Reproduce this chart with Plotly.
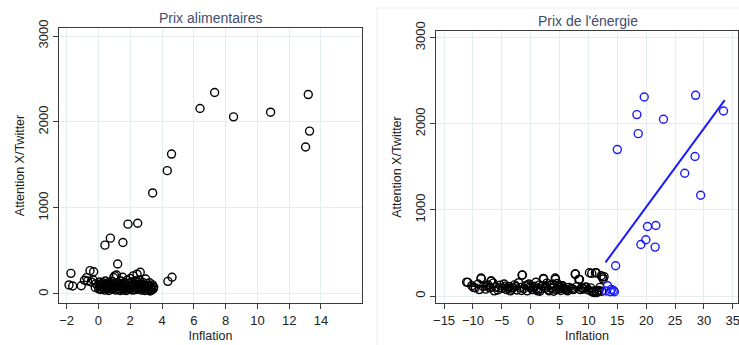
import plotly.graph_objects as go

# ---------------- data: food prices panel ----------------
food_x = [
    -1.73, -1.85, -1.62, -1.08, -0.53, -0.30, -0.74, -0.68, -0.33, -0.88, -0.45, -0.20,
    -0.15, -0.05, 0.02, 0.08, 0.12, 0.18, 0.22, 0.27, 0.31, 0.36, 0.41, 0.44, 0.48,
    0.53, 0.57, 0.61, 0.66, 0.70, 0.74, 0.79, 0.83, 0.87, 0.92, 0.96, 1.00, 1.03,
    1.07, 1.10, 1.14, 1.18, 1.21, 1.24, 1.28, 1.33, 1.37, 1.41, 1.45, 1.49, 1.52,
    1.56, 1.60, 1.64, 1.68, 1.72, 1.76, 1.80, 1.84, 1.88, 1.92, 1.96, 2.00, 2.04,
    2.08, 2.11, 2.15, 2.19, 2.23, 2.27, 2.31, 2.35, 2.39, 2.43, 2.47, 2.51, 2.55,
    2.59, 2.63, 2.67, 2.71, 2.75, 2.79, 2.83, 2.87, 2.92, 2.97, 3.01, 3.05, 3.10,
    3.14, 3.18, 3.22, 3.27, 3.31, 3.36, 3.40, 3.45, 3.48, 4.37, 4.63,
    0.05, 0.35, 0.62, 0.95, 1.15, 1.42, 1.70, 1.98, 2.25, 2.55, 2.80, 3.08, 3.33,
    0.15, 0.50, 0.85, 1.30, 1.58, 1.90, 2.20, 2.45, 2.70, 3.00, 3.25,
    6.39, 7.31, 8.50, 10.83, 13.20, 13.28, 13.03, 4.60, 4.33, 3.41, 2.47, 1.86,
    0.75, 0.41, 1.54,
]
food_y = [
    240, 105, 93, 95, 271, 259, 190, 151, 163, 160, 140, 75,
    120, 95, 60, 140, 85, 110, 55, 130, 70, 100, 45, 150, 80,
    115, 60, 95, 40, 125, 75, 105, 55, 145, 85, 190, 65, 210,
    110, 45, 220, 90, 348, 130, 60, 100, 40, 150, 75, 115, 194,
    55, 95, 135, 70, 110, 40, 160, 85, 120, 55, 100, 180, 65,
    140, 95, 45, 210, 115, 75, 155, 50, 105, 230, 130, 70, 90,
    160, 252, 115, 45, 85, 135, 60, 100, 40, 174, 75, 120, 55,
    95, 40, 130, 65, 85, 50, 105, 60, 80, 147, 194,
    110, 65, 130, 80, 60, 95, 125, 70, 50, 110, 75, 100, 45,
    50, 90, 70, 115, 45, 65, 95, 55, 110, 80, 35,
    2157, 2343, 2060, 2114, 2319, 1894, 1709, 1627, 1434, 1175, 823, 812,
    649, 568, 599,
]

# ---------------- data: energy prices panel ----------------
energy_x_before = [
    -10.9, -11.1, -8.6, -8.57, -6.9, -6.8, -1.5, -1.43, 2.24, 2.2, 4.3, 4.25,
    7.76, 7.7, 8.45, 8.33, 10.57, 10.17, 11.33, 11.2, 12.4, 12.7, 12.2, 12.55,
    -10.2, -9.6, -9.1, -8.2, -7.8, -7.4, -7.0, -6.5, -6.1, -5.7, -5.3, -4.9,
    -4.6, -4.2, -3.8, -3.5, -3.1, -2.8, -2.4, -2.1, -1.8, -1.2, -0.9, -0.6,
    -0.3, 0.0, 0.3, 0.6, 0.9, 1.2, 1.5, 1.8, 2.5, 2.8, 3.1, 3.4, 3.7, 4.0,
    4.6, 4.9, 5.2, 5.5, 5.8, 6.2, 6.6, 7.0, 7.4, 8.0, 8.8, 9.2, 9.6, 10.0,
    10.4, 10.8, 11.0, 11.5, 11.8, 12.0,
    -9.9, -8.9, -7.6, -6.3, -5.5, -4.4, -3.3, -2.6, -1.6, -0.5, 0.5, 1.0,
    1.6, 2.0, 2.6, 3.2, 3.8, 4.4, 5.0, 5.6, 6.4, 7.2, 8.6, 9.4, 10.6, 11.4,
    11.7, 12.3, -7.2, -3.9, -0.1, 1.3, 3.5, 4.8, 5.3, 6.0, 9.0, 10.9,
]
energy_y_before = [
    159, 162, 209, 201, 174, 174, 243, 244, 197, 205, 193, 209,
    255, 255, 193, 193, 263, 270, 271, 270, 220, 225, 235, 197,
    120, 95, 140, 110, 80, 130, 95, 150, 105, 70, 125, 90,
    140, 75, 110, 60, 95, 130, 70, 155, 100, 85, 120, 60,
    140, 95, 75, 115, 160, 60, 130, 85, 110, 150, 70, 125, 90, 55,
    145, 100, 65, 120, 85, 70, 100, 90, 75, 110, 95, 80, 105, 70,
    95, 50, 39, 45, 60, 100,
    100, 75, 120, 60, 95, 115, 80, 110, 65, 130, 100, 85,
    55, 120, 90, 60, 140, 75, 115, 90, 60, 80, 75, 100, 50, 40,
    65, 55, 100, 90, 110, 70, 95, 80, 120, 75, 90, 60,
]
energy_x_after = [
    15.0, 19.66, 18.39, 18.62, 22.99, 28.56, 33.39, 28.45, 26.67, 29.43, 20.23,
    21.67, 19.94, 19.08, 21.55, 14.71, 13.05, 13.3, 13.97, 14.5, 13.8, 14.3,
]
energy_y_after = [
    1701, 2312, 2107, 1886, 2053, 2331, 2149, 1620, 1426, 1171, 808,
    819, 653, 599, 568, 352, 58, 120, 77, 50, 50, 65,
]

# fitted lines (endpoints)
fit_before_x = [-11.0, 12.9]
fit_before_y = [115, 92]
fit_after_x = [12.95, 33.6]
fit_after_y = [390, 2275]

panel_titles = ["Prix alimentaires", "Prix de l'énergie"]
food_xticks = [-2, 0, 2, 4, 6, 8, 10, 12, 14]
energy_xticks = [-15, -10, -5, 0, 5, 10, 15, 20, 25, 30, 35]
yticks = [0, 1000, 2000, 3000]

# ---------------- figure ----------------
W, H = 739, 345
FONT = "Liberation Sans, Arial, sans-serif"
GRID = "#e6edf1"
AX = "#3a3a3a"


def px_x(p):
    return p / W


def px_y(p):
    return 1 - p / H


fig = go.Figure()
open_marker = dict(symbol="circle-open", size=8, color="black", line=dict(width=1.4))

fig.add_trace(go.Scatter(x=food_x, y=food_y, mode="markers", marker=open_marker,
                         xaxis="x", yaxis="y", showlegend=False))
fig.add_trace(go.Scatter(x=energy_x_before, y=energy_y_before, mode="markers",
                         marker=open_marker, xaxis="x2", yaxis="y2", showlegend=False))
fig.add_trace(go.Scatter(x=fit_before_x, y=fit_before_y, mode="lines",
                         line=dict(color="black", width=1.6), xaxis="x2", yaxis="y2",
                         showlegend=False))
fig.add_trace(go.Scatter(x=energy_x_after, y=energy_y_after, mode="markers",
                         marker=dict(symbol="circle-open", size=8, color="#1a1aff",
                                     line=dict(width=1.4)),
                         xaxis="x2", yaxis="y2", showlegend=False))
fig.add_trace(go.Scatter(x=fit_after_x, y=fit_after_y, mode="lines",
                         line=dict(color="#1a1aff", width=2), xaxis="x2", yaxis="y2",
                         showlegend=False))

common_x = dict(showgrid=True, gridcolor=GRID, gridwidth=1, zeroline=False,
                showline=True, linecolor=AX, linewidth=1, mirror=True, automargin=False,
                ticks="outside", ticklen=5, tickcolor=AX, ticklabeloverflow="allow",
                tickfont=dict(family=FONT, size=13, color="#222"),
                title=dict(text="Inflation", font=dict(family=FONT, size=12.5, color="#222"),
                           standoff=4))
common_y = dict(showgrid=True, gridcolor=GRID, gridwidth=1, zeroline=False,
                showline=True, linecolor=AX, linewidth=1, mirror=True, automargin=False,
                ticks="outside", ticklen=5, tickcolor=AX, tickangle=-90,
                ticklabeloverflow="allow",
                tickvals=yticks, range=[-105, 3093],
                tickfont=dict(family=FONT, size=13, color="#222"),
                title=dict(text="Attention X/Twitter",
                           font=dict(family=FONT, size=12.5, color="#222"), standoff=8))

frame_path = "M {x0},{y0} L {x0},{y1} L {x1},{y1}".format(
    x0=px_x(377), y0=0, y1=px_y(8), x1=1.0)

fig.update_layout(
    width=W, height=H,
    margin=dict(l=0, r=0, t=0, b=0, autoexpand=False),
    paper_bgcolor="white", plot_bgcolor="white",
    xaxis=dict(common_x, domain=[px_x(59), px_x(362)], range=[-2.48, 16.58],
               tickvals=food_xticks, anchor="y"),
    yaxis=dict(common_y, domain=[px_y(303), px_y(28)], anchor="x"),
    xaxis2=dict(common_x, domain=[px_x(436), px_x(738)], range=[-16.4, 35.9],
                tickvals=energy_xticks, anchor="y2"),
    yaxis2=dict(common_y, domain=[px_y(303), px_y(31)], anchor="x2", range=[-81, 3078]),
    shapes=[dict(type="path", xref="paper", yref="paper", path=frame_path,
                 line=dict(color="#ececec", width=1))],
    annotations=[
        dict(text=panel_titles[0], x=px_x(210), y=px_y(18), xref="paper", yref="paper",
             xanchor="center", yanchor="middle",
             showarrow=False, font=dict(family=FONT, size=14, color="#3f4d70")),
        dict(text=panel_titles[1], x=px_x(588), y=px_y(21), xref="paper", yref="paper",
             xanchor="center", yanchor="middle",
             showarrow=False, font=dict(family=FONT, size=14, color="#3f4d70")),
    ],
)

fig.write_html("out.html", config={"displayModeBar": False},
               post_script="document.body.style.margin='0px';document.body.style.overflow='hidden';")
